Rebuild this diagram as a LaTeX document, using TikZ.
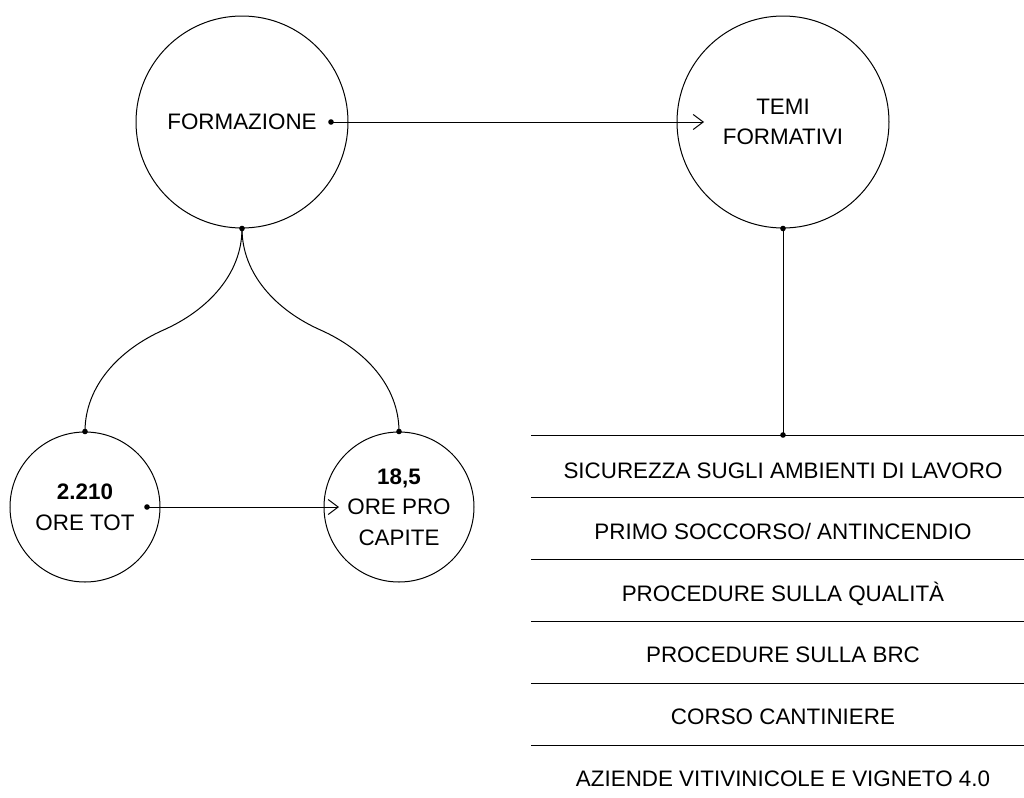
\documentclass[tikz,border=0pt]{standalone}
\usepackage{fontspec}
\setmainfont{Liberation Sans}
\usetikzlibrary{arrows.meta,calc}

\begin{document}
\begin{tikzpicture}[x=0.5pt,y=-0.5pt,
		linea/.style={line width=0.5pt},
		freccia/.style={linea, -{Straight Barb[length=5pt,width=7.5pt]}},
		cerchio/.style={draw, circle, linea, inner sep=0pt, align=center,
			font=\fontsize{11.2}{15.3}\selectfont},
		grande/.style={cerchio, minimum size=106pt},
		piccolo/.style={cerchio, minimum size=75pt},
		punto/.style={fill, circle, inner sep=0pt, minimum size=2.8pt},
		voce/.style={anchor=base, inner sep=0pt, font=\fontsize{11.2}{13}\selectfont},
		]
		\useasboundingbox (0,0) rectangle (1024,798);
		% ── Cerchi principali ──
		\node[grande] (formazione) at (242,122) {FORMAZIONE};
		\node[grande] (temi) at (783,122) {TEMI\\FORMATIVI};
		% ── Cerchi delle ore ──
		\node[piccolo] (tot) at (85,507) {{\bfseries 2.210}\\ORE TOT};
		\node[piccolo] (capite) at (399,507) {{\bfseries 18,5}\\ORE PRO\\CAPITE};
		
		% ── Punti di attacco ──
		\coordinate (fa) at ($(formazione)+(89,0)$);
		\coordinate (fb) at (formazione.south);
		\coordinate (ta) at ($(tot)+(62,0)$);
		\coordinate (lista) at (783,435);
		\coordinate (ml) at ($(fb)!0.5!(tot.north)$);     % flesso ramo sinistro
		\coordinate (mr) at ($(fb)!0.5!(capite.north)$);  % flesso ramo destro
		
		% ── Collegamenti ──
		\draw[freccia] (fa) -- ($(temi)+(-79,0)$);
		\draw[linea] (temi.south) -- (lista);
		\draw[linea] (fb) .. controls +(0,45) and +(45,-20) .. (ml)
		.. controls +(-45,20) and +(0,-45) .. (tot.north);
		\draw[linea] (fb) .. controls +(0,45) and +(-45,-20) .. (mr)
		.. controls +(45,20) and +(0,-45) .. (capite.north);
		\draw[freccia] (ta) -- ($(capite)+(-60,0)$);
		\foreach \p in {fa,fb,ta,lista,temi.south,tot.north,capite.north}
		\node[punto] at (\p) {};
		
		% ── Elenco dei temi formativi ──
		\foreach \t [count=\i from 0] in {SICUREZZA SUGLI AMBIENTI DI LAVORO,
			PRIMO SOCCORSO/ ANTINCENDIO, PROCEDURE SULLA QUALITÀ,
			PROCEDURE SULLA BRC, CORSO CANTINIERE,
			AZIENDE VITIVINICOLE E VIGNETO 4.0}{
			\draw[linea] (531,{435+62*\i}) -- (1024,{435+62*\i});
			\node[voce] (v\i) at (783,{478+61.6*\i}) {\t};
		}
		
	\end{tikzpicture}
\end{document}
